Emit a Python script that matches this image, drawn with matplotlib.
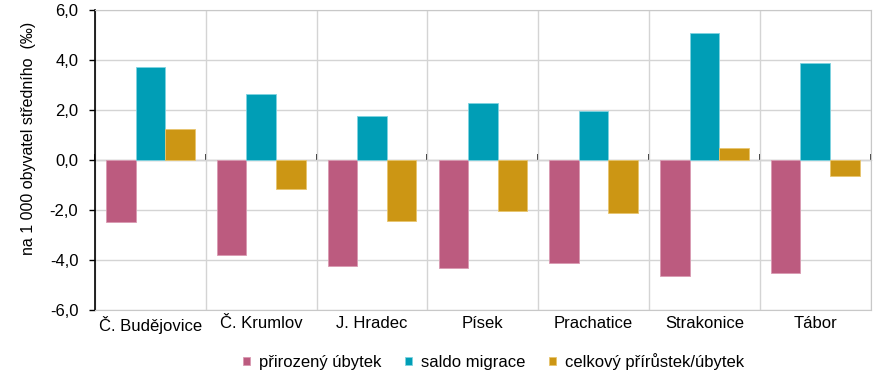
import numpy as np
import matplotlib.pyplot as plt
from matplotlib.ticker import FuncFormatter

plt.rcParams['font.family'] = ['Liberation Sans', 'DejaVu Sans']

# data (per 1 000 mid-year inhabitants)
okresy = ['Č. Budějovice', 'Č. Krumlov', 'J. Hradec', 'Písek',
          'Prachatice', 'Strakonice', 'Tábor']
prirozeny = [-2.47, -3.81, -4.24, -4.32, -4.12, -4.63, -4.51]
migrace = [3.72, 2.67, 1.79, 2.31, 1.99, 5.09, 3.88]
celkovy = [1.24, -1.16, -2.44, -2.03, -2.13, 0.48, -0.65]

series = [
    ('přirozený úbytek', prirozeny, '#BC5B7F', '#d99ab2'),
    ('saldo migrace', migrace, '#009EB6', '#7fd3e0'),
    ('celkový přírůstek/úbytek', celkovy, '#CC9614', '#e8c56e'),
]

fig = plt.figure(figsize=(8.86, 3.88), dpi=100)
ax = fig.add_axes([0.1072, 0.201, 0.8755, 0.772])

x = np.arange(len(okresy))
w = 0.8 / 3
for i, (name, vals, col, edge) in enumerate(series):
    ax.bar(x + (i - 1) * w, vals, width=w, color=col, edgecolor=edge,
           linewidth=0.6, label=name, zorder=3)

ax.set_xlim(-0.5, len(okresy) - 0.5)
ax.set_ylim(-6, 6)
ax.set_yticks(np.arange(-6, 6.1, 2))
ax.yaxis.set_major_formatter(FuncFormatter(lambda v, p: f'{v:.1f}'.replace('.', ',')))
ax.set_xticks(x)
ax.set_xticklabels(okresy)
ax.set_xticks(np.arange(-0.5, len(okresy)), minor=True)
ax.tick_params(axis='x', which='both', length=0, labelsize=12, pad=4)
ax.tick_params(axis='y', direction='out', length=4, width=1, labelsize=12,
               color='black', pad=8)

ax.grid(axis='y', which='major', color='#d4d4d4', linewidth=1, zorder=0)
ax.grid(axis='x', which='minor', color='#d4d4d4', linewidth=1, zorder=0)

for s in ['top', 'right', 'bottom']:
    ax.spines[s].set_color('#c8c8c8')
ax.spines['left'].set_color('black')
ax.spines['left'].set_linewidth(1.2)

# zero axis with category boundary ticks
zero = ax.secondary_xaxis(0.5)
zero.set_xticks(np.arange(-0.5, len(okresy)))
zero.set_xticklabels([])
zero.tick_params(direction='out', length=4, width=1.2, color='black')
zero.spines['bottom'].set_color('black')
zero.spines['bottom'].set_linewidth(1.2)

ax.set_ylabel('na 1 000 obyvatel středního  (‰)', fontsize=11.5)
ax.yaxis.set_label_coords(-0.076, 0.573)

fig.legend(loc='center', bbox_to_anchor=(0.557, 0.068), ncol=3, frameon=False,
           fontsize=12, handlelength=0.42, handleheight=0.42, handletextpad=0.55,
           columnspacing=1.4)

fig.savefig('out.png', dpi=100)
